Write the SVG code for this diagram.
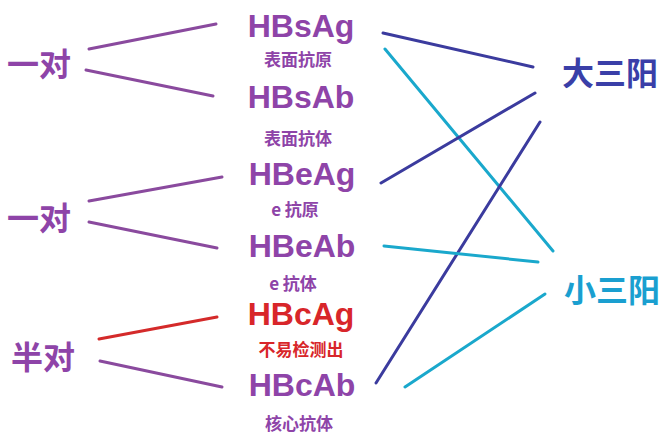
<svg xmlns="http://www.w3.org/2000/svg" width="664" height="444" viewBox="0 0 664 444">
<style>
.big{font-family:"Liberation Sans","Noto Sans CJK SC",sans-serif;font-weight:bold;font-size:32px;text-anchor:middle}
.sub{font-family:"Noto Sans CJK SC","Liberation Sans",sans-serif;font-weight:bold;font-size:17px;text-anchor:middle;dominant-baseline:central}
.cjk{font-family:"Noto Sans CJK SC",sans-serif;font-weight:bold;font-size:32px;dominant-baseline:central}
.p{fill:#8e44a8}
.r{fill:#d8262a}
.db{fill:#3a3fa8}
.cy{fill:#1a9fd0}
line{stroke-width:3;stroke-linecap:round}
.lp{stroke:#8a4a9e}
.lr{stroke:#d42a2a}
.ldb{stroke:#3b3b9e}
.lcy{stroke:#1aa8cc}
</style>
<rect width="664" height="444" fill="#ffffff"/>
<g id="connectors">
<line class="lp" x1="89" y1="49" x2="216" y2="24"/>
<line class="lp" x1="86" y1="70" x2="213" y2="96"/>
<line class="lp" x1="89" y1="201" x2="222" y2="177"/>
<line class="lp" x1="89" y1="222" x2="217" y2="248"/>
<line class="lr" x1="99" y1="339" x2="217" y2="317"/>
<line class="lp" x1="100" y1="361" x2="222" y2="387"/>
<line class="ldb" x1="383" y1="33" x2="533" y2="67"/>
<line class="lcy" x1="385" y1="49" x2="553" y2="251"/>
<line class="ldb" x1="381" y1="183" x2="535" y2="93"/>
<line class="ldb" x1="376" y1="383" x2="540" y2="122"/>
<line class="lcy" x1="384" y1="246" x2="538" y2="262"/>
<line class="lcy" x1="405" y1="387" x2="545" y2="294"/>
</g>
<g id="pair1"><text class="cjk p" x="7" y="62">一对</text></g>
<g id="pair2"><text class="cjk p" x="7" y="216">一对</text></g>
<g id="half"><text class="cjk p" x="11" y="355">半对</text></g>
<g id="HBsAg"><text class="big p" x="301" y="37">HBsAg</text><text class="sub p" x="298" y="58">表面抗原</text></g>
<g id="HBsAb"><text class="big p" x="301" y="108">HBsAb</text><text class="sub p" x="298" y="137">表面抗体</text></g>
<g id="HBeAg"><text class="big p" x="302" y="185">HBeAg</text><text class="sub p" x="295" y="208">e 抗原</text></g>
<g id="HBeAb"><text class="big p" x="302" y="257">HBeAb</text><text class="sub p" x="293" y="282">e 抗体</text></g>
<g id="HBcAg"><text class="big r" x="301" y="325">HBcAg</text><text class="sub r" x="301" y="348">不易检测出</text></g>
<g id="HBcAb"><text class="big p" x="302" y="396">HBcAb</text><text class="sub p" x="299" y="422">核心抗体</text></g>
<g id="big3"><text class="cjk db" x="562" y="71">大三阳</text></g>
<g id="small3"><text class="cjk cy" x="564" y="288">小三阳</text></g>
</svg>
